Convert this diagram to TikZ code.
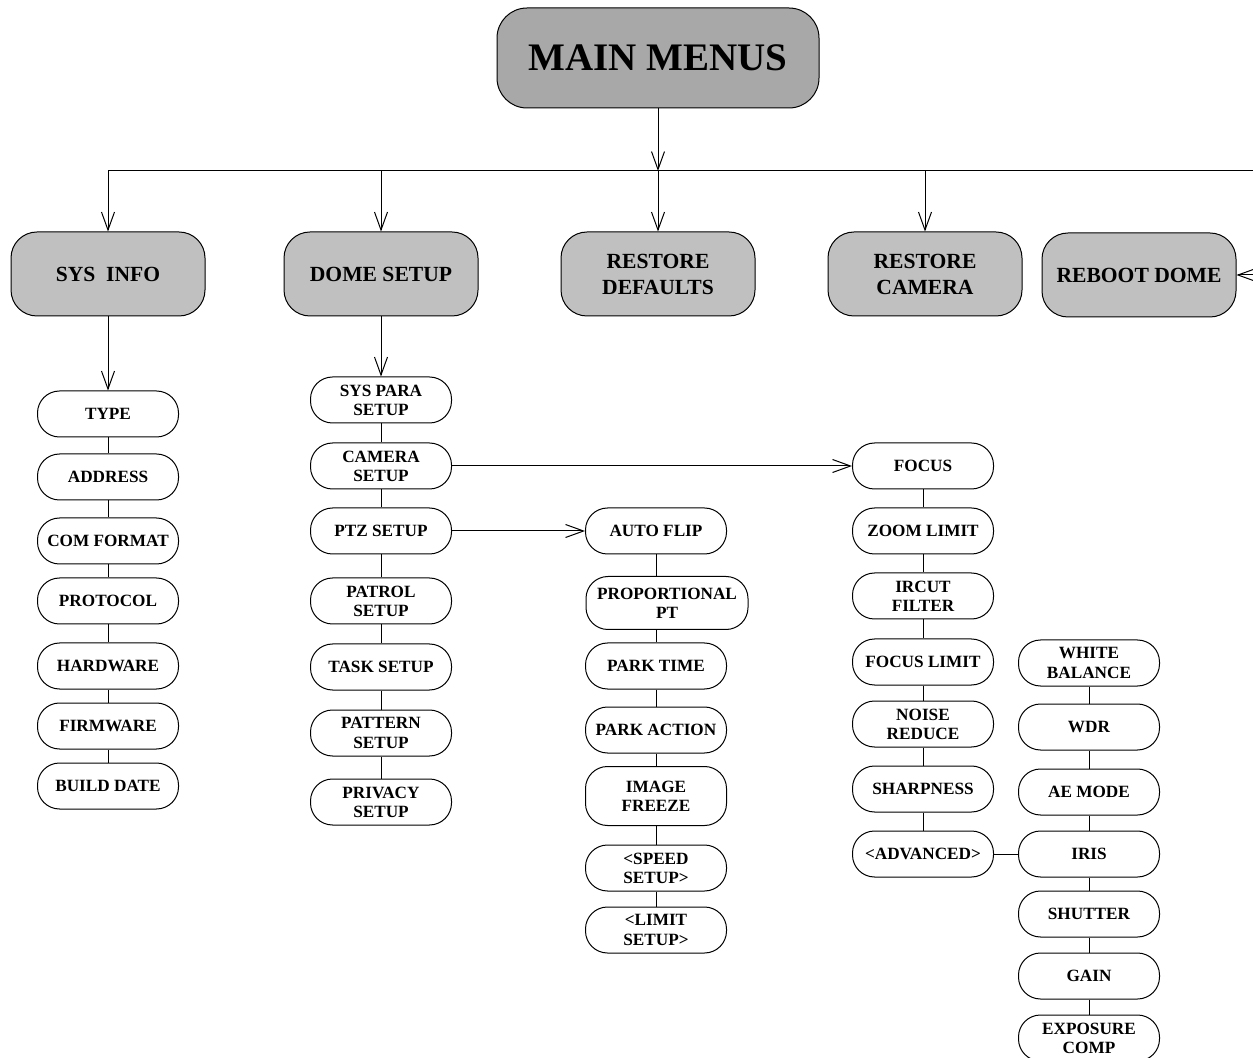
\documentclass[tikz,border=0pt]{standalone}
\usepackage{fontspec}
\setmainfont{Liberation Serif}
\usetikzlibrary{arrows.meta,positioning}
\definecolor{maingray}{HTML}{A8A8A8}
\definecolor{menugray}{HTML}{C0C0C0}

\tikzset{
  mainbox/.style={draw, fill=maingray, rounded corners=15pt, minimum width=161pt, minimum height=50pt, font=\bfseries\fontsize{19.5}{22}\selectfont},
  menubox/.style={draw, fill=menugray, rounded corners=13pt, minimum width=97pt, minimum height=42pt, align=center, inner sep=1pt, font=\bfseries\fontsize{10.8}{13}\selectfont},
  item/.style={draw, fill=white, rounded corners=11pt, minimum width=70.5pt, minimum height=23pt, align=center, inner sep=0.5pt, font=\bfseries\fontsize{8.6}{9.6}\selectfont},
}

\begin{document}
\begin{tikzpicture}[x=0.5pt,y=-0.5pt,line width=0.5pt,>={Straight Barb[length=9pt,width=6.5pt]}]
	\useasboundingbox (0,0) rectangle (1253,1058);

	% top and menu row
	\node[mainbox] (main) at (658,58) {MAIN MENUS};
	\node[menubox] (sysinfo) at (108,274) {SYS\ \ INFO};
	\node[menubox] (domesetup) at (381,274) {DOME SETUP};
	\node[menubox] (restdef) at (658,274) {RESTORE\\DEFAULTS};
	\node[menubox] (restcam) at (925,274) {RESTORE\\CAMERA};
	\node[menubox] (reboot) at (1139,275) {REBOOT DOME};

	\coordinate (bus) at (0,171);
	\coordinate (busend) at (1257,171);
	\draw[->] (main.south) -- (main.south |- bus);
	\draw[->] (sysinfo.north |- bus) -- (busend) |- (reboot.east);
	\foreach \n in {sysinfo,domesetup,restdef,restcam}
		\draw[->] (\n.north |- bus) -- (\n.north);

	% sys info
	\node[item] (type) at (108,414) {TYPE};
	\node[item] (address) at (108,477) {ADDRESS};
	\node[item] (comformat) at (108,541) {COM FORMAT};
	\node[item] (protocol) at (108,601) {PROTOCOL};
	\node[item] (hardware) at (108,666) {HARDWARE};
	\node[item] (firmware) at (108,726) {FIRMWARE};
	\node[item] (builddate) at (108,786) {BUILD DATE};
	\draw[->] (sysinfo) -- (type);
	\path (type) edge (address);
	\path (address) edge (comformat);
	\path (comformat) edge (protocol);
	\path (protocol) edge (hardware);
	\path (hardware) edge (firmware);
	\path (firmware) edge (builddate);

	% dome setup
	\node[item] (syspara) at (381,400) {SYS PARA\\SETUP};
	\node[item] (camsetup) at (381,466) {CAMERA\\SETUP};
	\node[item] (ptzsetup) at (381,531) {PTZ SETUP};
	\node[item] (patrol) at (381,601) {PATROL\\SETUP};
	\node[item] (task) at (381,667) {TASK SETUP};
	\node[item] (pattern) at (381,733) {PATTERN\\SETUP};
	\node[item] (privacy) at (381,802) {PRIVACY\\SETUP};
	\draw[->] (domesetup) -- (syspara);
	\path (syspara) edge (camsetup);
	\path (camsetup) edge (ptzsetup);
	\path (ptzsetup) edge (patrol);
	\path (patrol) edge (task);
	\path (task) edge (pattern);
	\path (pattern) edge (privacy);

	% ptz setup
	\node[item] (autoflip) at (656,531) {AUTO FLIP};
	\node[item, minimum width=81pt, minimum height=26.5pt] (prop) at (667,603) {PROPORTIONAL\\PT};
	\node[item] (parktime) at (656,666) {PARK TIME};
	\node[item] (parkaction) at (656,730) {PARK ACTION};
	\node[item, minimum height=29.5pt] (freeze) at (656,796) {IMAGE\\FREEZE};
	\node[item] (speed) at (656,868) {<SPEED\\SETUP>};
	\node[item] (limit) at (656,930) {<LIMIT\\SETUP>};
	\draw[->] (ptzsetup.east) -- (autoflip.west);
	\draw (autoflip.south) -- (autoflip.south |- prop.north);
	\draw (parktime.north) -- (parktime.north |- prop.south);
	\path (parktime) edge (parkaction);
	\path (parkaction) edge (freeze);
	\path (freeze) edge (speed);
	\path (speed) edge (limit);

	% camera setup
	\node[item] (focus) at (923,466) {FOCUS};
	\node[item] (zoomlimit) at (923,531) {ZOOM LIMIT};
	\node[item] (ircut) at (923,596) {IRCUT\\FILTER};
	\node[item] (focuslimit) at (923,662) {FOCUS LIMIT};
	\node[item] (noise) at (923,724) {NOISE\\REDUCE};
	\node[item] (sharp) at (923,789) {SHARPNESS};
	\node[item] (advanced) at (923,854) {<ADVANCED>};
	\draw[->] (camsetup.east) -- (focus.west);
	\path (focus) edge (zoomlimit);
	\path (zoomlimit) edge (ircut);
	\path (ircut) edge (focuslimit);
	\path (focuslimit) edge (noise);
	\path (noise) edge (sharp);
	\path (sharp) edge (advanced);

	% advanced
	\node[item] (wb) at (1089,663) {WHITE\\BALANCE};
	\node[item] (wdr) at (1089,727) {WDR};
	\node[item] (aemode) at (1089,792) {AE MODE};
	\node[item] (iris) at (1089,854) {IRIS};
	\node[item] (shutter) at (1089,914) {SHUTTER};
	\node[item] (gain) at (1089,976) {GAIN};
	\node[item] (expcomp) at (1089,1038) {EXPOSURE\\COMP};
	\path (advanced) edge (iris);
	\path (wb) edge (wdr);
	\path (wdr) edge (aemode);
	\path (aemode) edge (iris);
	\path (iris) edge (shutter);
	\path (shutter) edge (gain);
	\path (gain) edge (expcomp);
\end{tikzpicture}
\end{document}
